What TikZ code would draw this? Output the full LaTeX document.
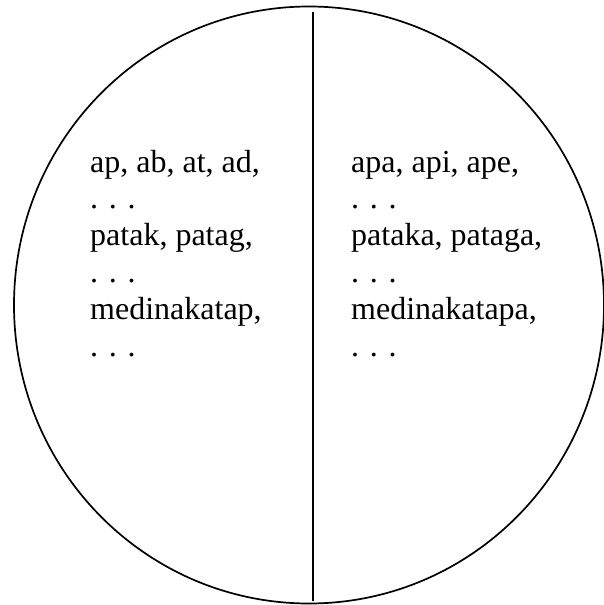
\documentclass[tikz,border=0pt]{standalone}
\usepackage{fontspec}
\setmainfont{Liberation Serif}
\begin{document}
\begin{tikzpicture}[x=1pt,y=-1pt,
  lbl/.style={anchor=base west,inner sep=0pt,font=\fontsize{32}{37}\selectfont},
  rim/.style={line width=1.7pt}]
\useasboundingbox (0,0) rectangle (603,605);
\draw[rim] (309,305) ellipse [x radius=295, y radius=298.5];
\coordinate (top) at (312.8,12);
\coordinate (bot) at (312.8,601);
\draw[rim] (top) -- (bot);
\node[lbl] (l1) at (90,172) {ap, ab, at, ad,};
\node[lbl] (l2) at (90,208.8) {. . .};
\node[lbl] (l3) at (90,245.6) {patak, patag,};
\node[lbl] (l4) at (90,282.4) {. . .};
\node[lbl] (l5) at (90,319.2) {medinakatap,};
\node[lbl] (l6) at (90,356) {. . .};
\node[lbl] (r1) at (351,172) {apa, api, ape,};
\node[lbl] (r2) at (351,208.8) {. . .};
\node[lbl] (r3) at (351,245.6) {pataka, pataga,};
\node[lbl] (r4) at (351,282.4) {. . .};
\node[lbl] (r5) at (351,319.2) {medinakatapa,};
\node[lbl] (r6) at (351,356) {. . .};
\end{tikzpicture}
\end{document}
